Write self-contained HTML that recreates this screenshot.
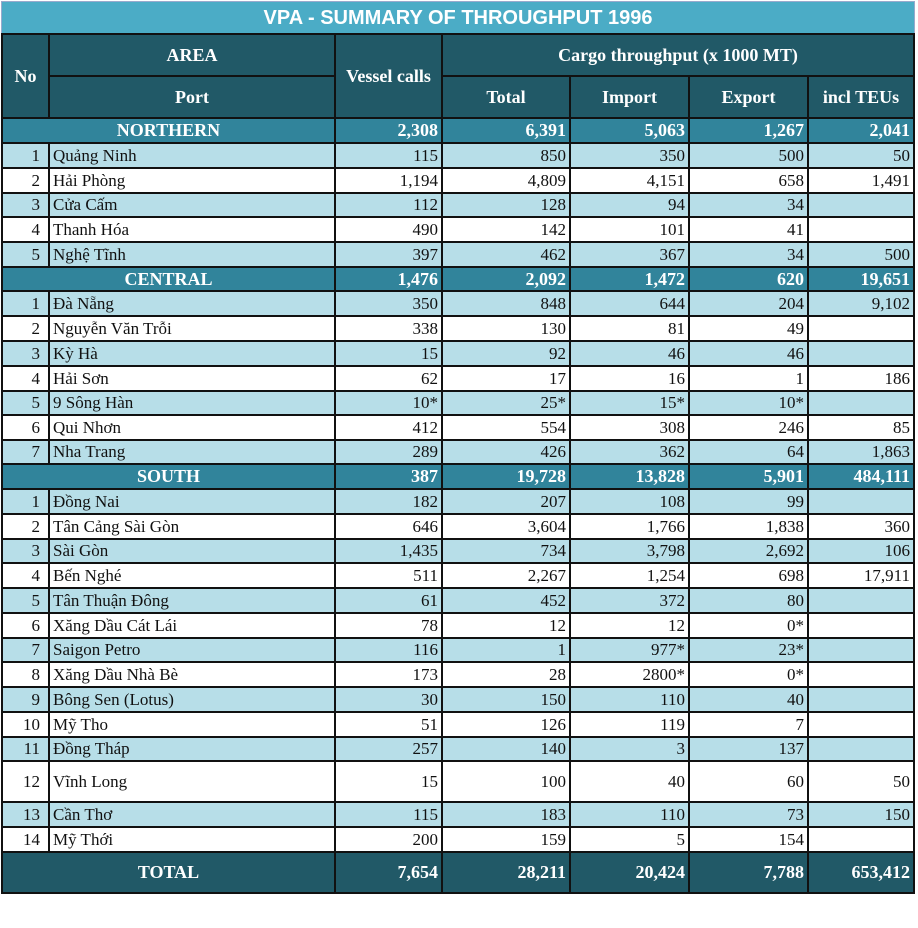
<!DOCTYPE html>
<html><head><meta charset="utf-8"><style>
body{margin:0;background:#fff;width:918px;height:928px;overflow:hidden;font-family:"Liberation Serif",serif;}
.title{position:absolute;left:1px;top:1px;width:912px;height:31px;background:#4bacc6;border:1px solid #9ac;color:#fff;font-family:"Liberation Sans",sans-serif;font-weight:bold;font-size:20px;text-align:center;line-height:32px;}
table{position:absolute;left:1px;top:33px;border-collapse:collapse;table-layout:fixed;width:912px;}
td{border:2px solid #111;padding:0 3px;font-size:17px;color:#111;overflow:hidden;white-space:nowrap;}
.h td{background:#215967;color:#fff;font-weight:bold;font-size:18px;text-align:center;}
.s td{background:#31849b;color:#fff;font-weight:bold;font-size:18px;text-align:right;}
.s td:first-child{text-align:center}
.t td{background:#215967;color:#fff;font-weight:bold;font-size:18px;text-align:right;}
.t td:first-child{text-align:center}
.l td{background:#b7dee8}
.w td{background:#fff}
td.n{text-align:right;padding-right:8px}
td.r{text-align:right}
</style></head><body>
<div class="title">VPA - SUMMARY OF THROUGHPUT 1996</div>
<table>
<colgroup><col style="width:47px"><col style="width:286px"><col style="width:107px"><col style="width:128px"><col style="width:119px"><col style="width:119px"><col style="width:106px"></colgroup>
<tr class="h" style="height:42px"><td rowspan="2">No</td><td>AREA</td><td rowspan="2">Vessel calls</td><td colspan="4">Cargo throughput (x 1000 MT)</td></tr>
<tr class="h" style="height:42px"><td>Port</td><td>Total</td><td>Import</td><td>Export</td><td>incl TEUs</td></tr>
<tr class="s" style="height:25px"><td colspan="2">NORTHERN</td><td>2,308</td><td>6,391</td><td>5,063</td><td>1,267</td><td>2,041</td></tr>
<tr class="l" style="height:25px"><td class="n">1</td><td>Quảng Ninh</td><td class="r">115</td><td class="r">850</td><td class="r">350</td><td class="r">500</td><td class="r">50</td></tr>
<tr class="w" style="height:25px"><td class="n">2</td><td>Hải Phòng</td><td class="r">1,194</td><td class="r">4,809</td><td class="r">4,151</td><td class="r">658</td><td class="r">1,491</td></tr>
<tr class="l" style="height:24px"><td class="n">3</td><td>Cửa Cấm</td><td class="r">112</td><td class="r">128</td><td class="r">94</td><td class="r">34</td><td class="r"></td></tr>
<tr class="w" style="height:25px"><td class="n">4</td><td>Thanh Hóa</td><td class="r">490</td><td class="r">142</td><td class="r">101</td><td class="r">41</td><td class="r"></td></tr>
<tr class="l" style="height:25px"><td class="n">5</td><td>Nghệ Tĩnh</td><td class="r">397</td><td class="r">462</td><td class="r">367</td><td class="r">34</td><td class="r">500</td></tr>
<tr class="s" style="height:24px"><td colspan="2">CENTRAL</td><td>1,476</td><td>2,092</td><td>1,472</td><td>620</td><td>19,651</td></tr>
<tr class="l" style="height:25px"><td class="n">1</td><td>Đà Nẵng</td><td class="r">350</td><td class="r">848</td><td class="r">644</td><td class="r">204</td><td class="r">9,102</td></tr>
<tr class="w" style="height:25px"><td class="n">2</td><td>Nguyễn Văn Trỗi</td><td class="r">338</td><td class="r">130</td><td class="r">81</td><td class="r">49</td><td class="r"></td></tr>
<tr class="l" style="height:25px"><td class="n">3</td><td>Kỳ Hà</td><td class="r">15</td><td class="r">92</td><td class="r">46</td><td class="r">46</td><td class="r"></td></tr>
<tr class="w" style="height:25px"><td class="n">4</td><td>Hải Sơn</td><td class="r">62</td><td class="r">17</td><td class="r">16</td><td class="r">1</td><td class="r">186</td></tr>
<tr class="l" style="height:24px"><td class="n">5</td><td>9 Sông Hàn</td><td class="r">10*</td><td class="r">25*</td><td class="r">15*</td><td class="r">10*</td><td class="r"></td></tr>
<tr class="w" style="height:25px"><td class="n">6</td><td>Qui Nhơn</td><td class="r">412</td><td class="r">554</td><td class="r">308</td><td class="r">246</td><td class="r">85</td></tr>
<tr class="l" style="height:24px"><td class="n">7</td><td>Nha Trang</td><td class="r">289</td><td class="r">426</td><td class="r">362</td><td class="r">64</td><td class="r">1,863</td></tr>
<tr class="s" style="height:25px"><td colspan="2">SOUTH</td><td>387</td><td>19,728</td><td>13,828</td><td>5,901</td><td>484,111</td></tr>
<tr class="l" style="height:25px"><td class="n">1</td><td>Đồng Nai</td><td class="r">182</td><td class="r">207</td><td class="r">108</td><td class="r">99</td><td class="r"></td></tr>
<tr class="w" style="height:25px"><td class="n">2</td><td>Tân Cảng Sài Gòn</td><td class="r">646</td><td class="r">3,604</td><td class="r">1,766</td><td class="r">1,838</td><td class="r">360</td></tr>
<tr class="l" style="height:24px"><td class="n">3</td><td>Sài Gòn</td><td class="r">1,435</td><td class="r">734</td><td class="r">3,798</td><td class="r">2,692</td><td class="r">106</td></tr>
<tr class="w" style="height:25px"><td class="n">4</td><td>Bến Nghé</td><td class="r">511</td><td class="r">2,267</td><td class="r">1,254</td><td class="r">698</td><td class="r">17,911</td></tr>
<tr class="l" style="height:25px"><td class="n">5</td><td>Tân Thuận Đông</td><td class="r">61</td><td class="r">452</td><td class="r">372</td><td class="r">80</td><td class="r"></td></tr>
<tr class="w" style="height:25px"><td class="n">6</td><td>Xăng Dầu Cát Lái</td><td class="r">78</td><td class="r">12</td><td class="r">12</td><td class="r">0*</td><td class="r"></td></tr>
<tr class="l" style="height:24px"><td class="n">7</td><td>Saigon Petro</td><td class="r">116</td><td class="r">1</td><td class="r">977*</td><td class="r">23*</td><td class="r"></td></tr>
<tr class="w" style="height:25px"><td class="n">8</td><td>Xăng Dầu Nhà Bè</td><td class="r">173</td><td class="r">28</td><td class="r">2800*</td><td class="r">0*</td><td class="r"></td></tr>
<tr class="l" style="height:25px"><td class="n">9</td><td>Bông Sen (Lotus)</td><td class="r">30</td><td class="r">150</td><td class="r">110</td><td class="r">40</td><td class="r"></td></tr>
<tr class="w" style="height:25px"><td class="n">10</td><td>Mỹ Tho</td><td class="r">51</td><td class="r">126</td><td class="r">119</td><td class="r">7</td><td class="r"></td></tr>
<tr class="l" style="height:24px"><td class="n">11</td><td>Đồng Tháp</td><td class="r">257</td><td class="r">140</td><td class="r">3</td><td class="r">137</td><td class="r"></td></tr>
<tr class="w" style="height:41px"><td class="n">12</td><td>Vĩnh Long</td><td class="r">15</td><td class="r">100</td><td class="r">40</td><td class="r">60</td><td class="r">50</td></tr>
<tr class="l" style="height:25px"><td class="n">13</td><td>Cần Thơ</td><td class="r">115</td><td class="r">183</td><td class="r">110</td><td class="r">73</td><td class="r">150</td></tr>
<tr class="w" style="height:25px"><td class="n">14</td><td>Mỹ Thới</td><td class="r">200</td><td class="r">159</td><td class="r">5</td><td class="r">154</td><td class="r"></td></tr>
<tr class="t" style="height:41px"><td colspan="2">TOTAL</td><td>7,654</td><td>28,211</td><td>20,424</td><td>7,788</td><td>653,412</td></tr>
</table>
</body></html>
